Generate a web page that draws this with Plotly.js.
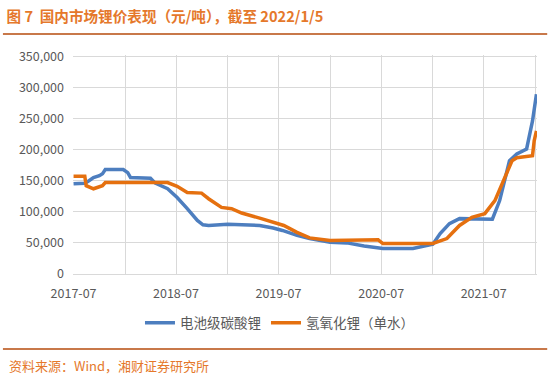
<!DOCTYPE html>
<html>
<head>
<meta charset="utf-8">
<script src="https://cdn.plot.ly/plotly-3.0.1.min.js"></script>
<style>html,body{margin:0;padding:0;background:#fff;}#chart{width:550px;height:381px;}</style>
</head>
<body>
<div id="chart"></div>
<script>
const carbonateDates = ['2017-07-01','2017-08-10','2017-08-25','2017-09-10','2017-10-01','2017-10-12','2017-10-22','2017-12-25','2018-01-10','2018-01-20','2018-04-01','2018-04-18','2018-06-01','2018-07-05','2018-08-10','2018-09-15','2018-10-05','2018-10-25','2019-01-01','2019-04-25','2019-06-12','2019-07-15','2019-09-05','2019-10-20','2020-01-01','2020-03-01','2020-05-01','2020-07-07','2020-10-22','2020-12-22','2021-01-01','2021-01-27','2021-03-01','2021-04-06','2021-06-01','2021-08-01','2021-08-27','2021-10-01','2021-10-27','2021-12-01','2021-12-22','2022-01-05'];
const carbonateValues = [145000,146000,150000,155000,158000,161000,168000,168000,163000,155000,154000,146000,137000,123000,105000,86000,79000,78000,80000,78000,74000,70000,62000,57000,51000,50000,45000,41000,41000,46000,48000,65000,81000,89000,88000,88000,118000,182000,193000,201000,246000,289000];

const hydroxideDates = ['2017-07-01','2017-08-10','2017-08-15','2017-09-10','2017-10-12','2017-10-22','2018-06-01','2018-07-05','2018-08-10','2018-09-30','2018-10-25','2018-12-10','2019-01-15','2019-02-20','2019-05-01','2019-07-20','2019-09-05','2019-10-20','2020-01-01','2020-06-20','2020-07-07','2020-12-22','2021-01-01','2021-02-20','2021-04-06','2021-05-20','2021-07-05','2021-08-10','2021-09-15','2021-10-10','2021-10-27','2021-12-22','2021-12-28','2022-01-05'];
const hydroxideValues = [157000,157000,142000,137000,142000,147000,147000,141000,131000,130000,121000,107000,105000,98000,89000,78000,67000,58000,54000,55000,49000,48000,49000,57000,78000,91000,97000,118000,155000,182000,187000,190000,214000,230000];

const seriesNames = ['电池级碳酸锂','氢氧化锂（单水）'];
const yTickVals = [0,50000,100000,150000,200000,250000,300000,350000];
const titleText = '<b>图 7  国内市场锂价表现（元/吨），截至 2022/1/5</b>';
const sourceText = '资料来源：Wind，湘财证券研究所';

const font = '"Noto Sans CJK SC", "Liberation Sans", sans-serif';

const traces = [
  {x: carbonateDates, y: carbonateValues, name: seriesNames[0], type: 'scatter', mode: 'lines',
   line: {color: '#4d7ebf', width: 3.5}},
  {x: hydroxideDates, y: hydroxideValues, name: seriesNames[1], type: 'scatter', mode: 'lines',
   line: {color: '#e5700f', width: 3.5}}
];

const layout = {
  width: 550, height: 381,
  margin: {l: 73, r: 13, t: 55, b: 107},
  paper_bgcolor: '#fff', plot_bgcolor: '#fff',
  font: {family: font, color: '#595959', size: 12},
  title: {text: titleText, xref: 'container', yref: 'container', x: 0.012, xanchor: 'left', y: 0.956, yanchor: 'middle',
          font: {family: font, size: 14.6, color: '#e5782b'}},
  xaxis: {type: 'date', range: ['2017-06-29', '2022-01-07'], tick0: '2017-07-01', dtick: 'M12', tickformat: '%Y-%m',
          showgrid: true, gridcolor: '#d9d9d9', gridwidth: 1, zeroline: false, showline: false, ticks: '',
          ticklabelstandoff: 10,
          minor: {dtick: 'M6', tick0: '2017-07-01', showgrid: true, gridcolor: '#d9d9d9', gridwidth: 1},
          tickfont: {size: 12.5, color: '#595959', family: font}},
  yaxis: {range: [0, 352000], tickvals: yTickVals, tickformat: ',d', showgrid: true, gridcolor: '#d9d9d9',
          zeroline: true, zerolinecolor: '#d9d9d9', zerolinewidth: 1, showline: false, ticks: '',
          ticklabelstandoff: 8, tickfont: {size: 12.5, color: '#595959', family: font}},
  showlegend: true,
  legend: {orientation: 'h', x: 0.445, xanchor: 'center', y: -0.224, yanchor: 'middle',
           font: {size: 13.5, color: '#595959', family: font}, itemwidth: 30, traceorder: 'normal'},
  shapes: [
    {type: 'line', xref: 'paper', yref: 'paper', x0: -0.151, x1: 1.022, y0: 1.096, y1: 1.096,
     line: {color: '#c8784a', width: 2}},
    {type: 'line', xref: 'paper', yref: 'paper', x0: -0.151, x1: 1.022, y0: -0.342, y1: -0.342,
     line: {color: '#c8784a', width: 2}}
  ],
  annotations: [
    {text: sourceText, xref: 'paper', yref: 'paper', x: -0.142, y: -0.42, xanchor: 'left', yanchor: 'middle',
     showarrow: false, font: {size: 13, color: '#e5782b', family: font}}
  ]
};

Plotly.newPlot('chart', traces, layout, {displayModeBar: false, staticPlot: true});
</script>
</body>
</html>
